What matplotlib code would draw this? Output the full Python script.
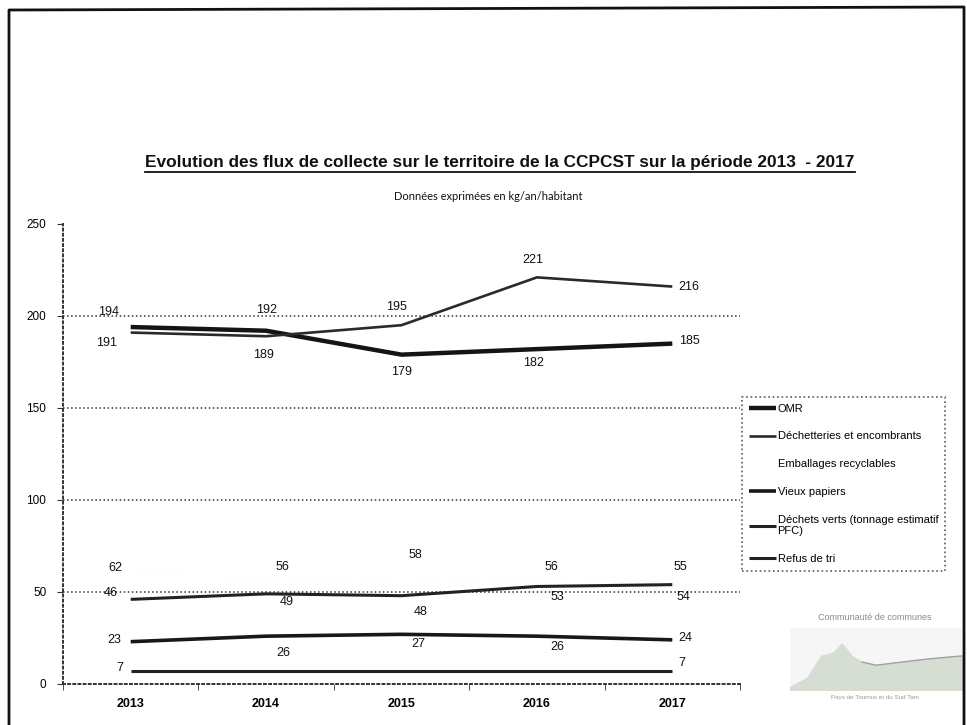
import numpy as np
import matplotlib.pyplot as plt
from matplotlib.lines import Line2D

plt.rcParams['font.family'] = ['Liberation Sans', 'DejaVu Sans']

# donnees en kg/an/habitant
annees = ['2013', '2014', '2015', '2016', '2017']
omr = [194, 192, 179, 182, 185]
decheteries = [191, 189, 195, 221, 216]
emballages = [62, 56, 58, 56, 55]
vieux_papiers = [23, 26, 27, 26, 24]
dechets_verts = [46, 49, 48, 53, 54]
refus_tri = [7, 7, 7, 7, 7]
noms = ['OMR', 'Déchetteries et encombrants', 'Emballages recyclables',
        'Vieux papiers', 'Déchets verts (tonnage estimatif\nPFC)', 'Refus de tri']

series = [omr, decheteries, emballages, vieux_papiers, dechets_verts, refus_tri]
couleurs = ['#141414', '#2a2a2a', '#fefefa', '#181818', '#222222', '#222222']
epaisseurs = [3.2, 1.9, 2.0, 2.6, 2.2, 2.2]
# decalage des etiquettes (pixels) pour chaque point
decalages = [
    [(-22, 15), (0, 21), (0, -17), (-3, -14), (17, 3)],
    [(-24, -10), (-3, -19), (-5, 18), (-4, 17), (17, 0)],
    [(-15, 2), (16, 14), (14, 22), (15, 14), (8, 16)],
    [(-16, 2), (17, -17), (17, -10), (20, -11), (13, 2)],
    [(-20, 6), (21, -8), (19, -16), (20, -11), (11, -12)],
    [(-11, 3), None, None, None, (10, 8)],
]

fig = plt.figure(figsize=(9.67, 7.25), dpi=100)
ax = fig.add_axes([63/967, 41/725, 677/967, 460/725])

x = np.arange(len(annees))
for vals, nom, c, lw, dec in zip(series, noms, couleurs, epaisseurs, decalages):
    ax.plot(x, vals, color=c, lw=lw, label=nom, solid_capstyle='butt')
    for xi, v, d in zip(x, vals, dec):
        if d is None:
            continue
        ax.annotate(str(v), (xi, v), xytext=d, textcoords='offset pixels',
                    ha='center', va='center', fontsize=9, color='#111111')

ax.set_xlim(-0.5, 4.5)
ax.set_ylim(0, 250)
ax.set_yticks(range(0, 251, 50))
ax.set_xticks(x)
ax.set_xticklabels(annees, fontsize=9, fontweight='bold')
ax.set_xticks(np.arange(-0.5, 5, 1), minor=True)
ax.tick_params(axis='x', which='major', length=0, pad=10)
ax.tick_params(axis='x', which='minor', length=4, direction='out', color='#333333')
ax.tick_params(axis='y', length=4, direction='out', labelsize=8.5, pad=8, color='#333333')

for s in ['top', 'right']:
    ax.spines[s].set_visible(False)
for s in ['left', 'bottom']:
    ax.spines[s].set_linestyle(':')
    ax.spines[s].set_color('#333333')
    ax.spines[s].set_linewidth(1.4)

for g in [50, 100, 150, 200]:
    ax.axhline(g, color='#333333', lw=1.1, ls=':', zorder=0)

leg = ax.legend(loc='upper left', bbox_to_anchor=(742/967, 1 - 397/725),
                bbox_transform=fig.transFigure, fontsize=8, frameon=True,
                fancybox=False, labelspacing=1.6, handlelength=2.5,
                handletextpad=0.1, borderpad=0.6, borderaxespad=0)
leg.get_frame().set_edgecolor('#333333')
leg.get_frame().set_linestyle(':')
leg.get_frame().set_linewidth(1.2)

# titres
titre = fig.text(0.517, 1 - 162/725, 'Evolution des flux de collecte sur le territoire de la CCPCST sur la période 2013  - 2017',
                 ha='center', va='center', fontsize=12.4, fontweight='bold', color='#111111')
fig.text(0.505, 1 - 197/725, 'Données exprimées en kg/an/habitant', ha='center', va='center',
         fontsize=8, family=['Lato', 'DejaVu Sans'], color='#111111')

fig.canvas.draw()
bb = titre.get_window_extent()
fig.add_artist(Line2D([bb.x0 / 967, bb.x1 / 967], [(bb.y0 - 2) / 725] * 2,
                      transform=fig.transFigure, color='#111111', lw=1.3))

# cadre
fig.add_artist(Line2D([9/967, 9/967, 964/967, 964/967], [0, 1 - 10/725, 1 - 7/725, 0],
                      transform=fig.transFigure, color='#111111', lw=2))

# logo
fig.text(875/967, 1 - 617/725, 'Communauté de communes', ha='center', va='center',
         fontsize=6.5, color='#8a8a8a')
logo = fig.add_axes([790/967, 1 - 690/725, 172/967, 62/725])
logo.set_facecolor('#f6f6f6')
for s in logo.spines.values():
    s.set_visible(False)
logo.set_xticks([])
logo.set_yticks([])
lx = [0, 0.1, 0.18, 0.25, 0.3, 0.36, 0.42, 0.5, 0.65, 0.8, 1.0]
ly = [0.05, 0.2, 0.55, 0.6, 0.75, 0.55, 0.45, 0.4, 0.45, 0.5, 0.55]
logo.fill_between(lx, 0, ly, color='#d6ddd3')
logo.plot(lx[6:], ly[6:], color='#a0a0a0', lw=1)
logo.set_xlim(0, 1)
logo.set_ylim(0, 1)
fig.text(875/967, 1 - 698/725, 'Pays de Tournus et du Sud Tarn', ha='center', va='center',
         fontsize=4.5, color='#9a9a9a')

plt.savefig('out.png', dpi=100)
